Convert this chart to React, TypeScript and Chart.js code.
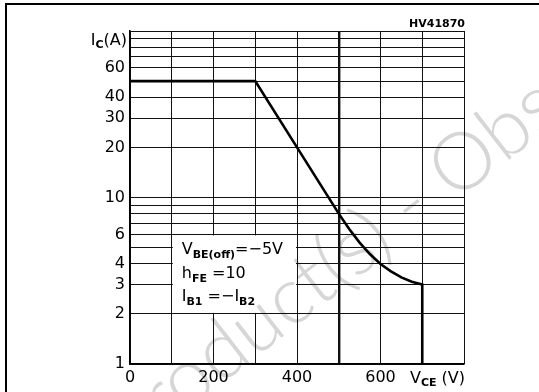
import React, { useEffect, useRef } from "react";
import { Chart, registerables } from "chart.js";

Chart.register(...registerables);

// ---- data ----
const vceValues = [0, 300, 400, 500, 525, 550, 575, 600, 625, 650, 675, 700, 700];
const icValues = [50, 50, 20, 8.0, 6.47, 5.36, 4.56, 3.99, 3.6, 3.31, 3.12, 3.0, 1];
const yGridValues = [1, 2, 3, 4, 5, 6, 7, 8, 9, 10, 20, 30, 40, 50, 60, 70, 80, 90, 100];
const yLabelValues = [1, 2, 3, 4, 6, 10, 20, 30, 40, 60];
const xLabelValues = [0, 200, 400, 600];
const figureCode = "HV41870";
const watermarkText = "Product(s) - Obsolete";

const FONT = "'DejaVu Sans', 'Liberation Sans', sans-serif";

type Part = { t: string; sub?: boolean };

function richWidth(ctx: CanvasRenderingContext2D, parts: Part[], main: number, sub: number) {
  let w = 0;
  for (const p of parts) {
    ctx.font = `${p.sub ? "bold " + sub : main}px ${FONT}`;
    w += ctx.measureText(p.t).width;
  }
  return w;
}

function drawRich(
  ctx: CanvasRenderingContext2D,
  x: number,
  y: number,
  parts: Part[],
  main = 16,
  sub = 11,
  subDy = 4
) {
  ctx.save();
  ctx.fillStyle = "#000";
  ctx.textAlign = "left";
  ctx.textBaseline = "alphabetic";
  let cx = x;
  for (const p of parts) {
    ctx.font = `${p.sub ? "bold " + sub : main}px ${FONT}`;
    ctx.fillText(p.t, cx, p.sub ? y + subDy : y);
    cx += ctx.measureText(p.t).width;
  }
  ctx.restore();
}

const decorPlugin = {
  id: "decor",
  beforeDatasetsDraw(chart: any) {
    const { ctx, scales } = chart;
    const xs = scales.x;
    const ys = scales.y;
    const x0 = xs.getPixelForValue(100);
    const x1 = xs.getPixelForValue(400);
    const y0 = ys.getPixelForValue(6);
    const y1 = ys.getPixelForValue(2);
    ctx.save();
    ctx.fillStyle = "#fff";
    ctx.fillRect(x0 + 1, y0 + 1, x1 - x0 - 2, y1 - y0 - 2);
    ctx.restore();
  },
  afterDraw(chart: any) {
    const { ctx, chartArea, scales } = chart;
    const xs = scales.x;
    const ys = scales.y;

    // box text
    const bx = xs.getPixelForValue(100) + 10;
    const by = ys.getPixelForValue(6);
    drawRich(ctx, bx, by + 20, [{ t: "V" }, { t: "BE(off)", sub: true }, { t: "=−5V" }]);
    drawRich(ctx, bx, by + 44, [{ t: "h" }, { t: "FE", sub: true }, { t: " =10" }]);
    drawRich(ctx, bx, by + 67, [{ t: "I" }, { t: "B1", sub: true }, { t: " =−I" }, { t: "B2", sub: true }]);

    // axis titles
    const yt: Part[] = [{ t: "I" }, { t: "C", sub: true }, { t: "(A)" }];
    const ytw = richWidth(ctx, yt, 16, 11);
    drawRich(ctx, chartArea.left - 3 - ytw, chartArea.top + 14, yt, 16, 11, 3);

    const xt: Part[] = [{ t: "V" }, { t: "CE", sub: true }, { t: " (V)" }];
    const xtw = richWidth(ctx, xt, 16, 11);
    drawRich(ctx, chartArea.right + 1 - xtw, chartArea.bottom + 19, xt, 16, 11, 3);

    // figure code
    ctx.save();
    ctx.font = `bold 11px ${FONT}`;
    ctx.fillStyle = "#000";
    ctx.textAlign = "right";
    ctx.textBaseline = "alphabetic";
    ctx.fillText(figureCode, chartArea.right + 1, chartArea.top - 4);
    ctx.restore();

    // frame
    ctx.save();
    ctx.strokeStyle = "#000";
    ctx.lineWidth = 2;
    ctx.beginPath();
    ctx.moveTo(5, 4);
    ctx.lineTo(539, 4);
    ctx.moveTo(6, 3);
    ctx.lineTo(6, 392);
    ctx.stroke();
    ctx.restore();

    // watermark
    ctx.save();
    ctx.globalCompositeOperation = "darken";
    const fs = 80;
    ctx.font = `300 ${fs}px Lato, 'Open Sans', sans-serif`;
    ctx.fillStyle = "#d6d6d6";
    ctx.textAlign = "left";
    ctx.textBaseline = "alphabetic";
    const theta = (-38 * Math.PI) / 180;
    const pw = ctx.measureText("Product(s) - ").width;
    const ow = ctx.measureText("O").width;
    const capH = fs * 0.72;
    const u = pw + ow / 2;
    const v = -capH / 2;
    const cx = 462;
    const cy = 160;
    const ox = cx - (u * Math.cos(theta) - v * Math.sin(theta));
    const oy = cy - (u * Math.sin(theta) + v * Math.cos(theta));
    ctx.translate(ox, oy);
    ctx.rotate(theta);
    ctx.fillText(watermarkText, 0, 0);
    ctx.restore();
  },
};

export default function App() {
  const ref = useRef<HTMLCanvasElement | null>(null);

  useEffect(() => {
    document.body.style.margin = "0";
    const canvas = ref.current;
    if (!canvas) return;
    Chart.defaults.font.family = FONT;
    Chart.defaults.color = "#000";
    const points = vceValues.map((x, i) => ({ x, y: icValues[i] }));
    const chart = new Chart(canvas, {
      type: "line",
      data: {
        datasets: [
          {
            data: points,
            borderColor: "#000",
            borderWidth: 2.6,
            pointRadius: 0,
            fill: false,
            tension: 0,
            clip: false as any,
          },
        ],
      },
      options: {
        animation: false,
        responsive: false,
        maintainAspectRatio: false,
        layout: { padding: { left: 0, right: 75, top: 31, bottom: 0 } },
        plugins: {
          legend: { display: false },
          tooltip: { enabled: false },
          title: { display: false },
        },
        scales: {
          x: {
            type: "linear",
            min: 0,
            max: 800,
            afterFit: (s: any) => {
              s.height = 28;
            },
            ticks: {
              stepSize: 100,
              autoSkip: false,
              maxRotation: 0,
              padding: 4,
              font: { size: 16, family: FONT },
              color: "#000",
              callback: (v: any) => (xLabelValues.includes(Number(v)) ? String(v) : ""),
            },
            grid: {
              color: "#111",
              lineWidth: (c: any) => (c.tick && c.tick.value === 500 ? 2.4 : 1),
              drawTicks: false,
            },
            border: { display: true, color: "#000", width: 1.5 },
          },
          y: {
            type: "logarithmic",
            min: 1,
            max: 100,
            afterFit: (s: any) => {
              s.width = 130;
            },
            afterBuildTicks: (s: any) => {
              s.ticks = yGridValues.map((value) => ({ value }));
            },
            ticks: {
              autoSkip: false,
              padding: 5,
              font: { size: 16, family: FONT },
              color: "#000",
              callback: (v: any) => (yLabelValues.includes(Number(v)) ? String(v) : ""),
            },
            grid: {
              color: "#111",
              lineWidth: 1,
              drawTicks: false,
            },
            border: { display: true, color: "#000", width: 1.5 },
          },
        },
      },
      plugins: [decorPlugin],
    });
    return () => chart.destroy();
  }, []);

  return (
    <div style={{ position: "fixed", left: 0, top: 0, width: 539, height: 392, background: "#fff" }}>
      <canvas ref={ref} width={539} height={392} style={{ display: "block" }} />
    </div>
  );
}
